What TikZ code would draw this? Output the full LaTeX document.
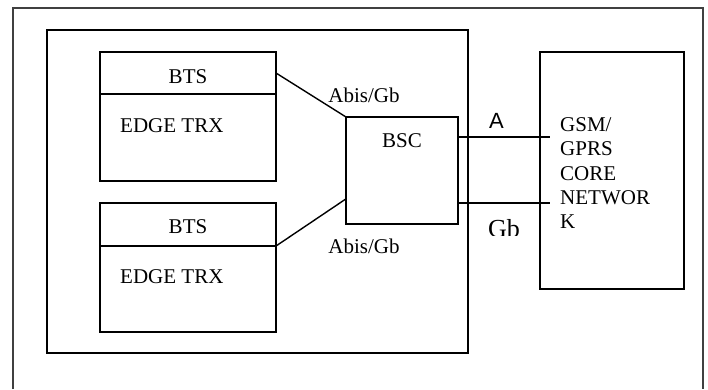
\documentclass[tikz,border=0pt]{standalone}
\usepackage{fontspec}
\setmainfont{Liberation Serif}
\newfontfamily\labelsans{Liberation Sans}
\usetikzlibrary{calc}

\tikzset{
  box/.style={draw, line width=1.4pt, inner sep=0pt, outer sep=0pt, anchor=north west},
  wire/.style={line width=1.4pt},
  txt/.style={inner sep=0pt, anchor=base, font=\fontsize{21}{24}\selectfont},
  txtl/.style={txt, anchor=base west},
  iface/.style={inner sep=0pt, anchor=base, font=\labelsans\fontsize{22}{26}\selectfont}
}

\begin{document}
\begin{tikzpicture}[x=1pt, y=-1pt]
  \useasboundingbox (0,0) rectangle (708,389);

  % outer frame, running off the lower edge
  \draw[line width=1.1pt, black!75] (13,389) -- (13,8) -- (703,8) -- (703,389);

  % base station subsystem
  \node[box, minimum width=421pt, minimum height=323pt] (bss) at (47,30) {};

  % first base transceiver station
  \node[box, minimum width=176pt, minimum height=42pt] (bts1head) at (100,52) {};
  \node[box, minimum width=176pt, minimum height=87pt] (bts1body) at (100,94) {};
  \node[txt] (bts1lbl) at (188,83) {BTS};
  \node[txtl] (trx1lbl) at (120,132) {EDGE TRX};

  % second base transceiver station
  \node[box, minimum width=176pt, minimum height=43pt] (bts2head) at (100,203) {};
  \node[box, minimum width=176pt, minimum height=86pt] (bts2body) at (100,246) {};
  \node[txt] (bts2lbl) at (188,233) {BTS};
  \node[txtl] (trx2lbl) at (120,283) {EDGE TRX};

  % base station controller
  \node[box, minimum width=112pt, minimum height=107pt] (bsc) at (346,117) {};
  \node[txt] (bsclbl) at (402,147) {BSC};

  % core network
  \node[box, minimum width=144pt, minimum height=237pt] (core) at (540,52) {};
  \node[txtl] (core1) at (560,131) {GSM/};
  \node[txtl] (core2) at (560,155) {GPRS};
  \node[txtl] (core3) at (560,180) {CORE};
  \node[txtl] (core4) at (560,204) {NETWOR};
  \node[txtl] (core5) at (560,228) {K};

  % Abis/Gb links
  \draw[wire] (bts1head.east) -- (bsc.north west);
  \draw[wire] (bts2head.south east) -- ($(bsc.north west)!0.765!(bsc.south west)$);
  \node[txt] (abis1) at (364,102) {Abis/Gb};
  \node[txt] (abis2) at (364,253) {Abis/Gb};

  % A and Gb interfaces to the core network
  \coordinate (aend) at (550,137);
  \coordinate (gbend) at (550,203);
  \draw[wire] ($(bsc.north east)+(0,20)$) -- (aend);
  \draw[wire] ($(bsc.north east)+(0,86)$) -- (gbend);
  \node[iface] (alabel) at (496.5,128) {A};
  \begin{scope}
    \clip (480,212) rectangle (530,235);
    \node[txt, font=\fontsize{26}{30}\selectfont] (gblabel) at (504,237.5) {Gb};
  \end{scope}
\end{tikzpicture}
\end{document}
